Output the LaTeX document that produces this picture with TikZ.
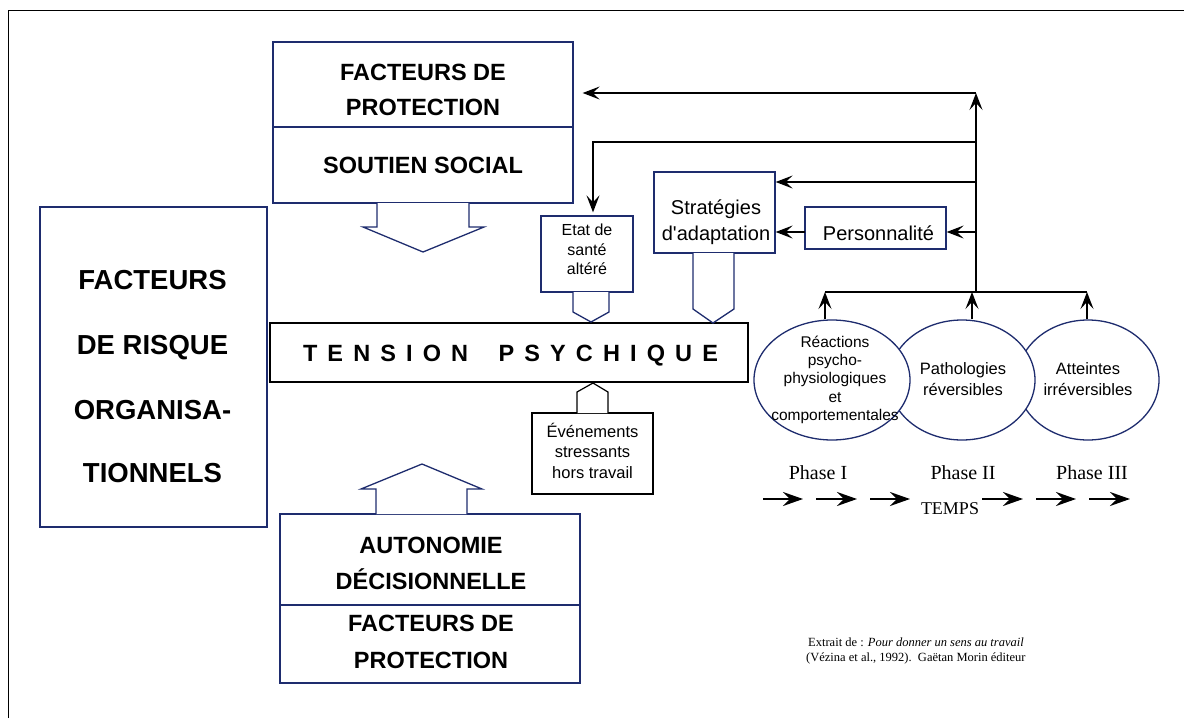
\documentclass[tikz,border=0pt]{standalone}
\usepackage{fontspec}
\setmainfont{Liberation Serif}
\newfontfamily\arial{Liberation Sans}
\usetikzlibrary{arrows.meta,shapes.geometric}
\definecolor{navy}{RGB}{30,44,110}
\newcommand\fsz[1]{\fontsize{#1}{#1}\selectfont}

\begin{document}
\begin{tikzpicture}[x=1pt,y=-1pt,
  nbox/.style={draw=navy, line width=1.3pt, inner sep=0pt, fill=white},
  kbox/.style={draw=black, line width=1.4pt, inner sep=0pt, fill=white},
  lbl/.style={inner sep=0pt, anchor=base},
  big/.style={lbl, font=\arial\bfseries\fsz{23.5}},
  huge/.style={lbl, font=\arial\bfseries\fsz{27.5}},
  small/.style={lbl, font=\arial\fsz{16}},
  mid/.style={lbl, font=\arial\fsz{20}},
  conn/.style={line width=1.4pt, -{Stealth[length=17pt,width=13pt,inset=7pt]}},
  plain/.style={line width=1.4pt},
  tarr/.style={line width=2pt, -{Stealth[length=20pt,width=14pt,inset=7pt]}},
  barrow/.style={draw=navy, line width=1.3pt, fill=white},
  ]
\useasboundingbox (0,0) rectangle (1184,718);

% page frame
\draw[line width=1.5pt] (8.5,718) -- (8.5,10.5) -- (1184,10.5);

% protective factors, top
\node[nbox, minimum width=300pt, minimum height=85pt] (prot1) at (423,84.5) {};
\node[nbox, minimum width=300pt, minimum height=76pt] (soc) at (423,165) {};
\node[big] at (423,80.3) {FACTEURS DE};
\node[big] at (423,115.3) {PROTECTION};
\node[big] at (423,173.3) {SOUTIEN SOCIAL};
\draw[barrow] (377,203) -- (377,227) -- (363,227) -- (423,252) -- (484,227) -- (469,227) -- (469,203);

% organisational risk factors
\node[nbox, minimum width=227pt, minimum height=320pt] (risk) at (153.5,367) {};
\node[huge] at (152.5,289.7) {FACTEURS};
\node[huge] at (152.5,354.7) {DE RISQUE};
\node[huge] at (152.5,419.7) {ORGANISA-};
\node[huge] at (152.5,482.7) {TIONNELS};

% protective factors, bottom
\node[nbox, minimum width=300pt, minimum height=91pt] (auto) at (430,559.5) {};
\node[nbox, minimum width=300pt, minimum height=78pt] (prot2) at (430,644) {};
\node[big] at (431,553.3) {AUTONOMIE};
\node[big] at (431,589.3) {DÉCISIONNELLE};
\node[big] at (431,631.3) {FACTEURS DE};
\node[big] at (431,668.3) {PROTECTION};
\draw[barrow] (376,514) -- (376,489) -- (361,489) -- (422,464) -- (482,489) -- (467,489) -- (467,514);

% central box
\node[kbox, minimum width=478pt, minimum height=59pt] (tension) at (509,352.5) {};
\node[big] at (510.5,361.3) {\makebox[415pt]{T\hfill E\hfill N\hfill S\hfill I\hfill O\hfill N\hfill\hfill\hfill P\hfill S\hfill Y\hfill C\hfill H\hfill I\hfill Q\hfill U\hfill E}};

% health state
\node[nbox, minimum width=92pt, minimum height=76pt] (etat) at (587,254) {};
\node[small] at (587,235.8) {Etat de};
\node[small] at (587,255.8) {santé};
\node[small] at (587,274.8) {altéré};
\draw[barrow] (573,292) -- (573,312) -- (591,322) -- (609,312) -- (609,292);

% coping strategies
\node[nbox, minimum width=121pt, minimum height=81pt] (strat) at (714.5,212.5) {};
\node[mid] at (716,214.2) {Stratégies};
\node[mid] at (716,240.2) {d'adaptation};
\draw[barrow] (693,253) -- (693,309) -- (713,323) -- (734,309) -- (734,253);

% personality
\node[nbox, minimum width=141pt, minimum height=42pt] (perso) at (875.5,228) {};
\node[mid] at (878.5,240) {Personnalité};

% stressful events outside work
\node[kbox, line width=1.2pt, minimum width=121pt, minimum height=81pt] (evt) at (592.5,453.5) {};
\node[lbl, font=\arial\fsz{16.5}] at (592.5,437) {Événements};
\node[lbl, font=\arial\fsz{16.5}] at (592.5,457) {stressants};
\node[lbl, font=\arial\fsz{16.5}] at (592.5,478) {hors travail};
\draw[line width=1.2pt, fill=white] (577,413) -- (577,392) -- (593,383) -- (608,392) -- (608,413);

% consequences
\node[ellipse, draw=navy, line width=1.3pt, fill=white, inner sep=0pt, minimum width=142pt, minimum height=120pt] (e3) at (1088,380) {};
\node[ellipse, draw=navy, line width=1.3pt, fill=white, inner sep=0pt, minimum width=146pt, minimum height=120pt] (e2) at (962,380) {};
\node[ellipse, draw=navy, line width=1.3pt, fill=white, inner sep=0pt, minimum width=156pt, minimum height=120pt] (e1) at (832,380) {};
\node[lbl, font=\arial\fsz{15.5}] at (835,347.6) {Réactions};
\node[lbl, font=\arial\fsz{15.5}] at (835,365.6) {psycho-};
\node[lbl, font=\arial\fsz{15.5}] at (835,383.6) {physiologiques};
\node[lbl, font=\arial\fsz{15.5}] at (835,402.6) {et};
\node[lbl, font=\arial\fsz{15.5}] at (835,420.6) {comportementales};
\node[lbl, font=\arial\fsz{16.5}] at (963,374) {Pathologies};
\node[lbl, font=\arial\fsz{16.5}] at (963,395) {réversibles};
\node[lbl, font=\arial\fsz{16.5}] at (1088,374) {Atteintes};
\node[lbl, font=\arial\fsz{16.5}] at (1088,395) {irréversibles};

% feedback connectors
\coordinate (t1) at (825,292);
\coordinate (t2) at (972,292);
\coordinate (t3) at (1087,292);
\coordinate (tb) at (976,292);
\coordinate (tt) at (976,93);
\coordinate (j1) at (976,142);
\coordinate (j2) at (976,182);
\coordinate (j3) at (976,232);
\coordinate (pw) at (805,232);
\coordinate (ek) at (593,142);

\draw[plain] (t1) -- (t3);
\draw[conn] (e1.north -| t1) -- (t1);
\draw[conn] (e2.north -| t2) -- (t2);
\draw[conn] (e3.north -| t3) -- (t3);
\draw[conn] (tb) -- (tt);
\draw[conn, shorten >=9pt] (tt) -- (prot1.east |- tt);
\draw[conn, shorten >=3pt] (j1) -- (ek) -- (ek |- etat.north);
\draw[conn] (j2) -- (strat.east |- j2);
\draw[conn] (j3) -- (perso.east |- j3);
\draw[conn] (pw) -- (strat.east |- pw);

% phases and time axis
\node[lbl, font=\fsz{20}] at (818,479.6) {Phase I};
\node[lbl, font=\fsz{20}] at (963,479.6) {Phase II};
\node[lbl, font=\fsz{20}] at (1092,479.6) {Phase III};
\node[lbl, font=\fsz{18}] at (950,514) {TEMPS};
\draw[tarr] (763,499) -- (803,499);
\draw[tarr] (816,499) -- (857,499);
\draw[tarr] (870,499) -- (910,499);
\draw[tarr] (982,499) -- (1023,499);
\draw[tarr] (1036,499) -- (1076,499);
\draw[tarr] (1089,499) -- (1130,499);

% source
\node[lbl, anchor=base west, font=\fsz{12.5}] at (808,646) {Extrait de : \textit{Pour donner un sens au travail}};
\node[lbl, anchor=base west, font=\fsz{12.5}] at (806,661) {(Vézina et al., 1992).\ \ Gaëtan Morin éditeur};
\end{tikzpicture}
\end{document}
